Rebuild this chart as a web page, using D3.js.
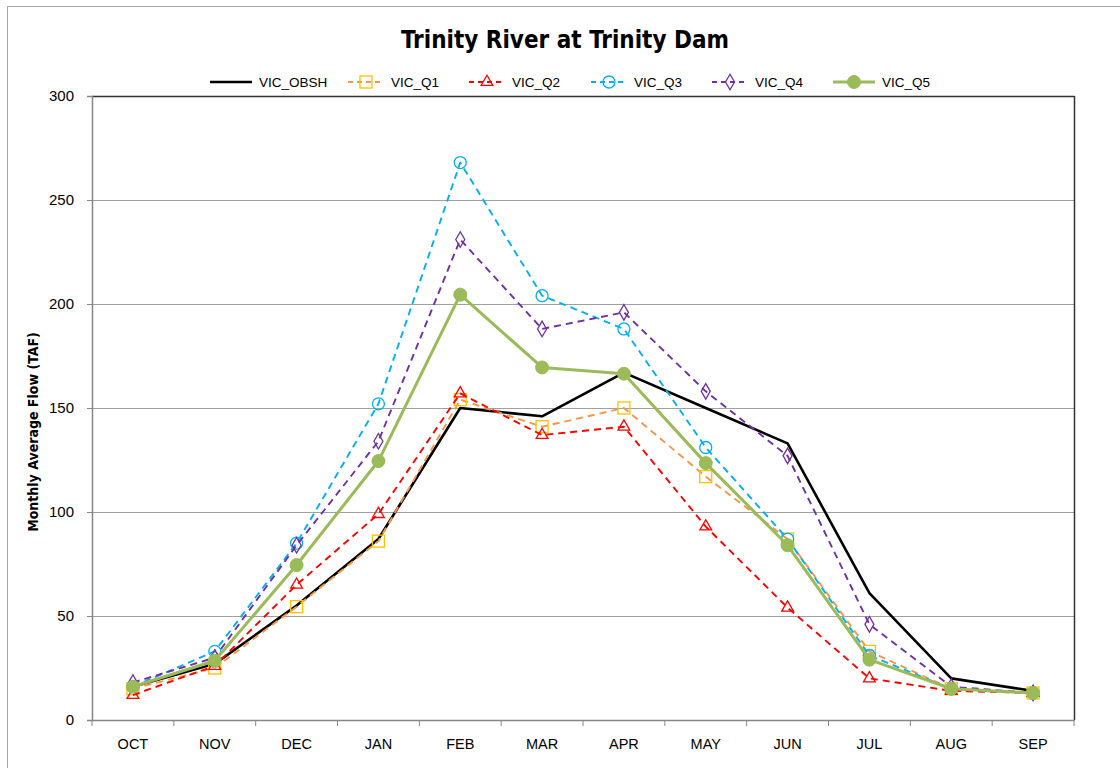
<!DOCTYPE html>
<html>
<head>
<meta charset="utf-8">
<script src="https://cdn.jsdelivr.net/npm/d3@7/dist/d3.min.js"></script>
<style>
html,body{margin:0;padding:0;background:#fff;}
svg{display:block;}
</style>
</head>
<body>
<svg id="chart" width="1120" height="768"></svg>
<script>
const months = ["OCT","NOV","DEC","JAN","FEB","MAR","APR","MAY","JUN","JUL","AUG","SEP"];
const yTicks = [0,50,100,150,200,250,300];
const seriesNames = ["VIC_OBSH","VIC_Q1","VIC_Q2","VIC_Q3","VIC_Q4","VIC_Q5"];
const obsh = [16,27,55,87,150,146,167,150,133,61,20,14];
const q1   = [15,25,54.5,86,154,141,150,117,87,33,15,13];
const q2   = [12,26,65,99,157,137,141,93,54,20,14,13];
const q3   = [16,33,85,152,268,204,188,131,87,31,15,13];
const q4   = [18,30,84,134,231,188,196,158,127,46,16,13];
const q5   = [16,28.5,74.5,124.5,204.5,169.5,166.5,123.5,84,29,15,13];
const title = "Trinity River at Trinity Dam";
const yLabel = "Monthly Average Flow (TAF)";

const styles = [
  {line:"#000000", width:2.6, dash:null, marker:null},
  {line:"#F79646", width:1.9, dash:"7,5", marker:"square", mcolor:"#FFC000", fill:"none"},
  {line:"#FF0000", width:1.9, dash:"7,5", marker:"triangle", mcolor:"#FF0000", fill:"none"},
  {line:"#00B0F0", width:1.9, dash:"7,5", marker:"circle", mcolor:"#00B0F0", fill:"none"},
  {line:"#7030A0", width:1.9, dash:"7,5", marker:"diamond", mcolor:"#7030A0", fill:"none"},
  {line:"#9BBB59", width:3, dash:null, marker:"dot", mcolor:"#9BBB59", fill:"#9BBB59"}
];
const data = [obsh,q1,q2,q3,q4,q5];

const FONT = "'Liberation Sans Narrow','DejaVu Sans Condensed','Liberation Sans',Arial,sans-serif";
const FONT2 = "'Liberation Sans',Arial,sans-serif";

const svg = d3.select("#chart");
const L = 92, R = 1074, T = 96, B = 720;

svg.append("rect").attr("x",7.5).attr("y",6.5).attr("width",1130).attr("height",780)
  .attr("fill","none").attr("stroke","#a6a6a6").attr("stroke-width",1);

const x = d3.scaleBand().domain(months).range([L,R]).padding(0);
const y = d3.scaleLinear().domain([0,300]).range([B,T]);

svg.append("g").selectAll("line").data(yTicks.filter(d=>d>0 && d<300)).join("line")
  .attr("x1",L).attr("x2",R).attr("y1",d=>y(d)+0.5).attr("y2",d=>y(d)+0.5)
  .attr("stroke","#a0a0a0").attr("stroke-width",1.2);

svg.append("line").attr("x1",L).attr("x2",R+0.5).attr("y1",T+0.5).attr("y2",T+0.5).attr("stroke","#333").attr("stroke-width",1.5);
svg.append("line").attr("x1",R+0.5).attr("x2",R+0.5).attr("y1",T).attr("y2",B).attr("stroke","#333").attr("stroke-width",1.5);

const yAxis = svg.append("g").attr("transform",`translate(${L},0)`)
  .call(d3.axisLeft(y).tickValues(yTicks).tickSize(5).tickPadding(13));
yAxis.select(".domain").attr("stroke","#868686").attr("stroke-width",1.5);
yAxis.selectAll(".tick line").attr("stroke","#868686");
yAxis.selectAll("text").attr("font-family",FONT2).attr("font-size",15).attr("fill","#000");

const xAxis = svg.append("g").attr("transform",`translate(0,${B})`)
  .call(d3.axisBottom(x).tickSize(0).tickPadding(19));
xAxis.select(".domain").attr("stroke","#868686").attr("stroke-width",1.5);
xAxis.selectAll("text").attr("font-family",FONT2).attr("font-size",14.5).attr("fill","#000");
svg.append("g").selectAll("line").data(d3.range(months.length+1)).join("line")
  .attr("x1",i=>L + i*x.step()).attr("x2",i=>L + i*x.step())
  .attr("y1",B).attr("y2",B+6).attr("stroke","#868686").attr("stroke-width",1);

const cx = m => x(m) + x.bandwidth()/2;

function drawMarker(g, type, color, fill){
  if(!type) return;
  if(type==="square"){
    g.append("rect").attr("x",-6).attr("y",-6).attr("width",12).attr("height",12)
      .attr("fill","none").attr("stroke",color).attr("stroke-width",1.3);
  } else if(type==="circle"){
    g.append("circle").attr("r",6).attr("fill","none").attr("stroke",color).attr("stroke-width",1.3);
  } else if(type==="dot"){
    g.append("circle").attr("r",6.5).attr("fill",fill).attr("stroke",color);
  } else if(type==="triangle"){
    g.append("path").attr("d",d3.symbol().type(d3.symbolTriangle).size(60)())
      .attr("fill","none").attr("stroke",color).attr("stroke-width",1.3);
  } else if(type==="diamond"){
    g.append("path").attr("d",d3.symbol().type(d3.symbolDiamond).size(70)())
      .attr("fill","none").attr("stroke",color).attr("stroke-width",1.3);
  }
}

const lineGen = d3.line().x((d,i)=>cx(months[i])).y(d=>y(d));

data.forEach((vals,si)=>{
  const s = styles[si];
  const g = svg.append("g");
  g.append("path").attr("d",lineGen(vals)).attr("fill","none")
    .attr("stroke",s.line).attr("stroke-width",s.width)
    .attr("stroke-dasharray",s.dash).attr("stroke-linejoin","round");
  vals.forEach((v,i)=>{
    const mg = g.append("g").attr("transform",`translate(${cx(months[i])},${y(v)})`);
    drawMarker(mg, s.marker, s.mcolor, s.fill);
  });
});

svg.append("text").attr("x",565).attr("y",48).attr("text-anchor","middle")
  .attr("font-family",FONT).attr("font-weight","bold").attr("font-size",24).attr("fill","#000").text(title);

svg.append("text").attr("transform","translate(38,432) rotate(-90)").attr("text-anchor","middle")
  .attr("font-family",FONT).attr("font-weight","bold").attr("font-size",14).attr("fill","#000").text(yLabel);

const legX = [210,348,469,591,712,833];
const legW = [42,36,36,36,36,42];
const legY = 82;
seriesNames.forEach((nm,i)=>{
  const s = styles[i];
  const g = svg.append("g").attr("transform",`translate(${legX[i]},${legY})`);
  g.append("line").attr("x1",0).attr("x2",legW[i]).attr("y1",0).attr("y2",0)
    .attr("stroke",s.line).attr("stroke-width",s.width).attr("stroke-dasharray",s.dash ? "5,4" : null);
  const mg = g.append("g").attr("transform",`translate(${legW[i]/2},0)`);
  drawMarker(mg, s.marker, s.mcolor, s.fill);
  g.append("text").attr("x",legW[i]+7).attr("y",5).attr("font-family",FONT2).attr("font-size",13.5)
    .attr("fill","#000").text(nm);
});
</script>
</body>
</html>
